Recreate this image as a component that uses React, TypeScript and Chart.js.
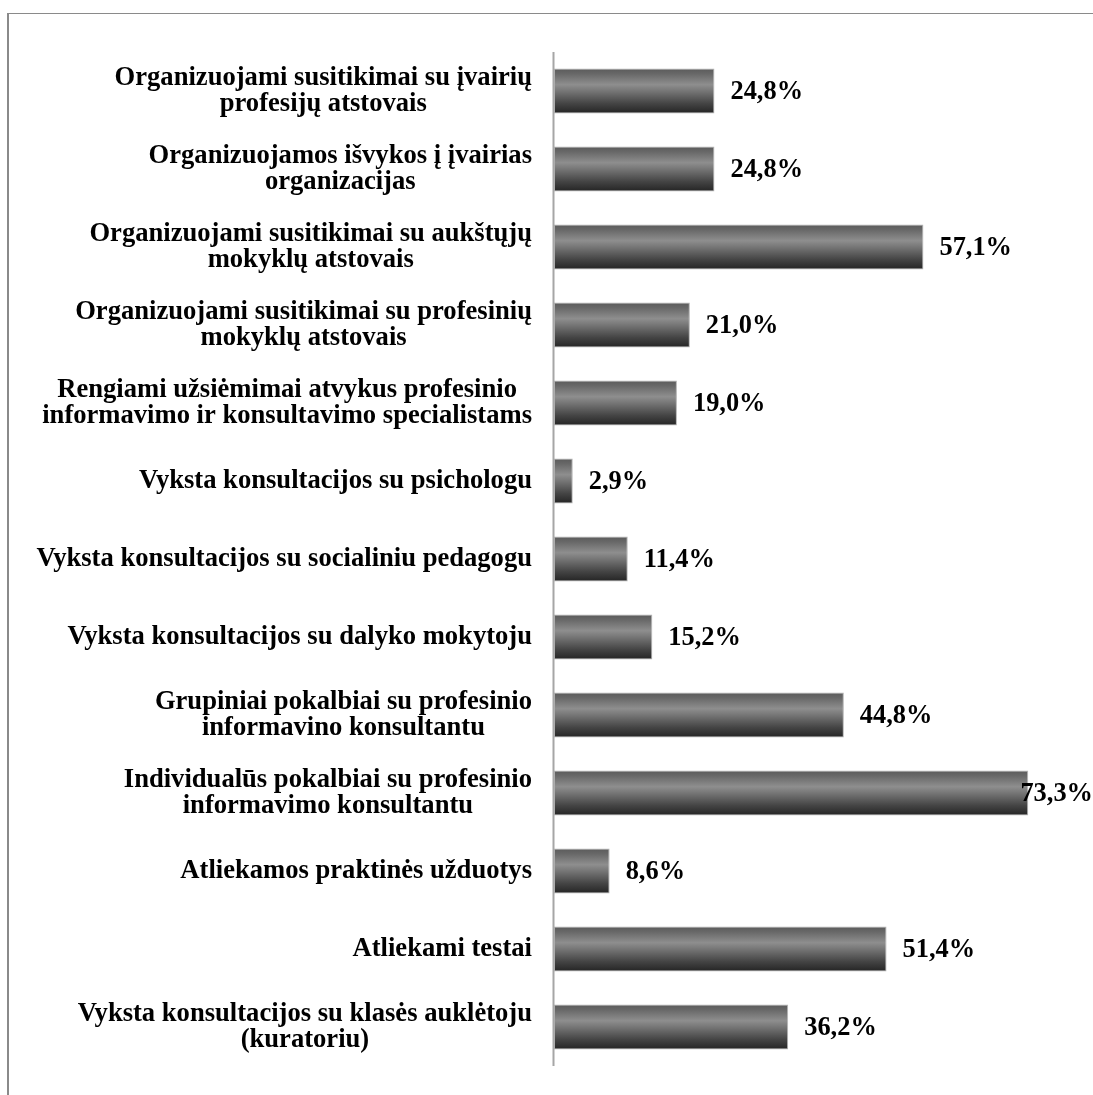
import React, { useEffect, useRef } from "react";
import { Chart, registerables } from "chart.js";

Chart.register(...registerables);

const categories: string[][] = [
  ["Organizuojami susitikimai su įvairių", "profesijų atstovais"],
  ["Organizuojamos išvykos į įvairias", "organizacijas"],
  ["Organizuojami susitikimai su aukštųjų", "mokyklų atstovais"],
  ["Organizuojami susitikimai su profesinių", "mokyklų atstovais"],
  ["Rengiami užsiėmimai atvykus profesinio", "informavimo ir konsultavimo specialistams"],
  ["Vyksta konsultacijos su psichologu"],
  ["Vyksta konsultacijos su socialiniu pedagogu"],
  ["Vyksta konsultacijos su dalyko mokytoju"],
  ["Grupiniai pokalbiai su profesinio", "informavino konsultantu"],
  ["Individualūs pokalbiai su profesinio", "informavimo konsultantu"],
  ["Atliekamos praktinės užduotys"],
  ["Atliekami testai"],
  ["Vyksta konsultacijos su klasės auklėtoju", "(kuratoriu)"],
];

const values: number[] = [24.8, 24.8, 57.1, 21.0, 19.0, 2.9, 11.4, 15.2, 44.8, 73.3, 8.6, 51.4, 36.2];

const xMin = 0;
const xMax = 80;

const W = 1093;
const H = 1095;
const FONT = "'Liberation Serif', 'Times New Roman', serif";
const BAR_PCT = 0.577;

const decorPlugin = {
  id: "decor",
  beforeDraw(chart: any) {
    const ctx = chart.ctx as CanvasRenderingContext2D;
    ctx.save();
    ctx.fillStyle = "#ffffff";
    ctx.fillRect(0, 0, W, H);
    ctx.fillStyle = "#8a8a8a";
    ctx.fillRect(7, 13, W - 7, 1);
    ctx.fillRect(7, 13, 2, H - 13);
    ctx.restore();
  },
  afterDatasetsDraw(chart: any) {
    const ctx = chart.ctx as CanvasRenderingContext2D;
    const area = chart.chartArea;
    const xs = chart.scales.x;
    const ys = chart.scales.y;
    ctx.save();
    // axis line
    ctx.fillStyle = "#a6a6a6";
    ctx.fillRect(xs.getPixelForValue(0) - 1.5, area.top, 2, area.bottom - area.top);

    // category labels
    ctx.fillStyle = "#000000";
    ctx.font = `bold 26.6px ${FONT}`;
    ctx.textBaseline = "middle";
    ctx.textAlign = "center";
    const rightEdge = xs.getPixelForValue(0) - 22;
    const lineH = 26;
    categories.forEach((lines, i) => {
      const cy = ys.getPixelForValue(i);
      const widths = lines.map((l) => ctx.measureText(l).width);
      const bw = Math.max(...widths);
      const cx = rightEdge - bw / 2;
      const n = lines.length;
      lines.forEach((l, j) => {
        const y = cy + (j - (n - 1) / 2) * lineH;
        ctx.fillText(l, cx, y);
      });
    });

    // value labels
    ctx.textAlign = "left";
    ctx.font = `bold 26.4px ${FONT}`;
    values.forEach((v, i) => {
      const txt = v.toFixed(1).replace(".", ",") + "%";
      const tw = ctx.measureText(txt).width;
      let x = xs.getPixelForValue(v) + 16;
      if (x + tw > W) x = W - tw;
      ctx.fillText(txt, x, ys.getPixelForValue(i) + 1);
    });
    ctx.restore();
  },
};

export default function App() {
  const ref = useRef<HTMLCanvasElement | null>(null);

  useEffect(() => {
    if (!ref.current) return;
    const chart = new Chart(ref.current, {
      type: "bar",
      data: {
        labels: categories.map((c) => c.join(" ")),
        datasets: [
          {
            data: values,
            backgroundColor: (context: any) => {
              const ch = context.chart;
              const ys = ch.scales && ch.scales.y;
              if (!ys || context.dataIndex === undefined) return "#666666";
              const cy = ys.getPixelForValue(context.dataIndex);
              const step = Math.abs(ys.getPixelForValue(1) - ys.getPixelForValue(0));
              const half = (step * BAR_PCT) / 2;
              if (!isFinite(cy) || !isFinite(half) || half <= 0) return "#666666";
              const g = ch.ctx.createLinearGradient(0, cy - half, 0, cy + half);
              g.addColorStop(0, "#5a5a5a");
              g.addColorStop(0.12, "#686868");
              g.addColorStop(0.36, "#8e8e8e");
              g.addColorStop(0.5, "#767676");
              g.addColorStop(0.78, "#444444");
              g.addColorStop(1, "#242424");
              return g;
            },
            borderColor: "#b4b4b4",
            borderWidth: 1,
            borderSkipped: false,
            categoryPercentage: 1,
            barPercentage: BAR_PCT,
          },
        ],
      },
      options: {
        indexAxis: "y",
        responsive: false,
        animation: false,
        devicePixelRatio: 1,
        layout: {
          padding: { left: 554, right: W - (554 + 6.47 * (xMax - xMin)), top: 52, bottom: H - 1066 },
        },
        plugins: {
          legend: { display: false },
          tooltip: { enabled: false },
          title: { display: false },
        },
        scales: {
          x: { display: false, min: xMin, max: xMax },
          y: { display: false },
        },
      },
      plugins: [decorPlugin],
    });
    return () => chart.destroy();
  }, []);

  return (
    <div style={{ position: "absolute", left: 0, top: 0, width: W, height: H }}>
      <canvas ref={ref} width={W} height={H} style={{ display: "block" }} />
    </div>
  );
}
